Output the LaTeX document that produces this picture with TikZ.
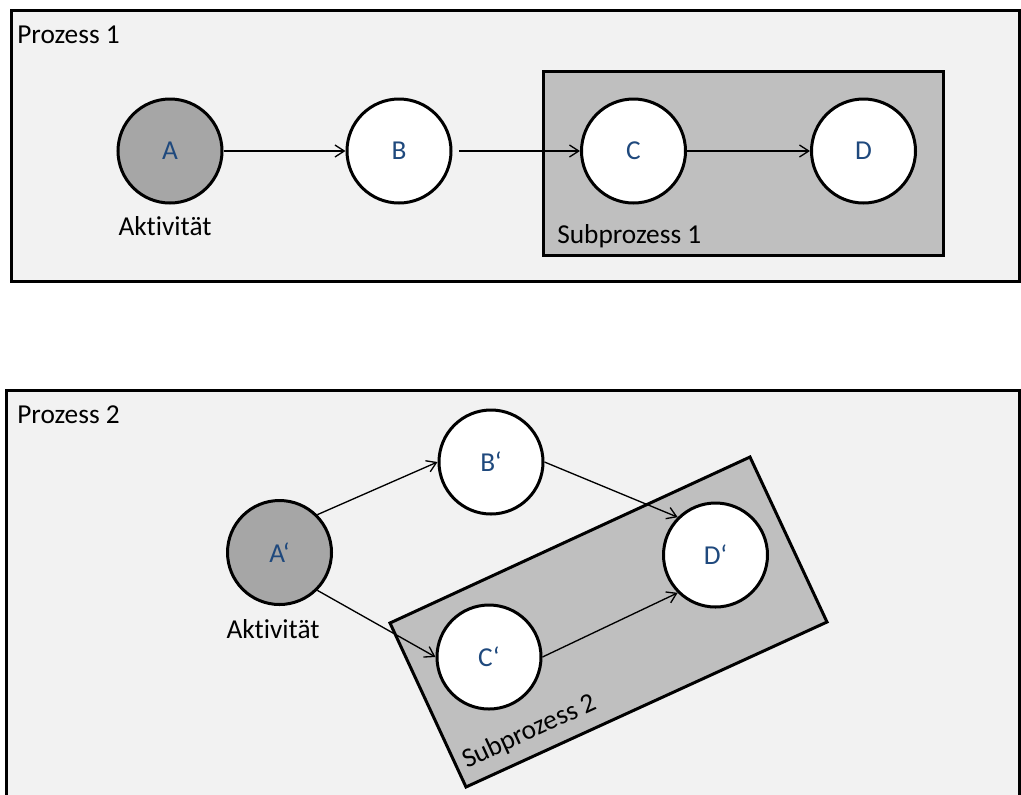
\documentclass[tikz,border=0pt]{standalone}
\usepackage{fontspec}
\setmainfont[Ligatures=NoCommon]{Carlito}
\usetikzlibrary{arrows.meta}
\definecolor{panel}{HTML}{F2F2F2}
\definecolor{subpanel}{HTML}{BFBFBF}
\definecolor{actfill}{HTML}{A6A6A6}
\definecolor{labelblue}{HTML}{1F497D}
\begin{document}
\begin{tikzpicture}[x=0.75pt,y=-0.75pt,
  frame/.style={draw=black,line width=2.25pt,fill=panel},
  subframe/.style={draw=black,line width=2.25pt,fill=subpanel},
  stepnode/.style={circle,draw=black,line width=2.25pt,fill=white,minimum size=78pt,
    inner sep=0pt,text=labelblue,font=\fontsize{20.5}{24}\selectfont},
  activity/.style={stepnode,fill=actfill},
  caption/.style={font=\fontsize{20.5}{24}\selectfont,inner sep=0pt},
  flow/.style={line width=1pt,-{Straight Barb[length=7pt,width=9pt]}}]
\useasboundingbox (0,0) rectangle (1021,794);
\clip (0,0) rectangle (1021,794);

% ---------- Prozess 1 ----------
\draw[frame] (11,10) rectangle (1019,281);
\draw[subframe] (543,71) rectangle (943,255);
\node[caption,anchor=base west] (p1) at (17,43) {Prozess 1};
\node[caption,anchor=base west] (sp1) at (557,243) {Subprozess 1};

\node[activity] (A) at (170,151) {A};
\node[stepnode] (B) at (399,151) {B};
\node[stepnode] (C) at (633.5,151) {C};
\node[stepnode] (D) at (863.5,151) {D};
\node[caption,anchor=base] (act1) at (165,235) {Aktivität};

\draw[flow] (A) -- (B);
\draw[flow,shorten <=5pt] (B) -- (C);
\draw[flow] (C) -- (D);

% ---------- Prozess 2 ----------
\draw[frame] (6,390) rectangle (1019,810);
\draw[subframe] (390,623) -- (750,457) -- (827,622) -- (466,787) -- cycle;
\node[caption,anchor=base west] (p2) at (17,423) {Prozess 2};
\node[caption,anchor=base west,rotate=24.8] (sp2) at (467,769) {Subprozess 2};

\node[activity] (A2) at (279.5,552.5) {A‘};
\node[stepnode] (B2) at (491,462) {B‘};
\node[stepnode] (C2) at (489,657) {C‘};
\node[stepnode] (D2) at (715.5,555) {D‘};
\node[caption,anchor=base] (act2) at (273,638) {Aktivität};

\draw[flow] (A2.45) -- (B2.west);
\draw[flow] (A2.-45) -- (C2.west);
\draw[flow] (B2.east) -- (D2.135);
\draw[flow] (C2.east) -- (D2.-135);
\end{tikzpicture}
\end{document}
